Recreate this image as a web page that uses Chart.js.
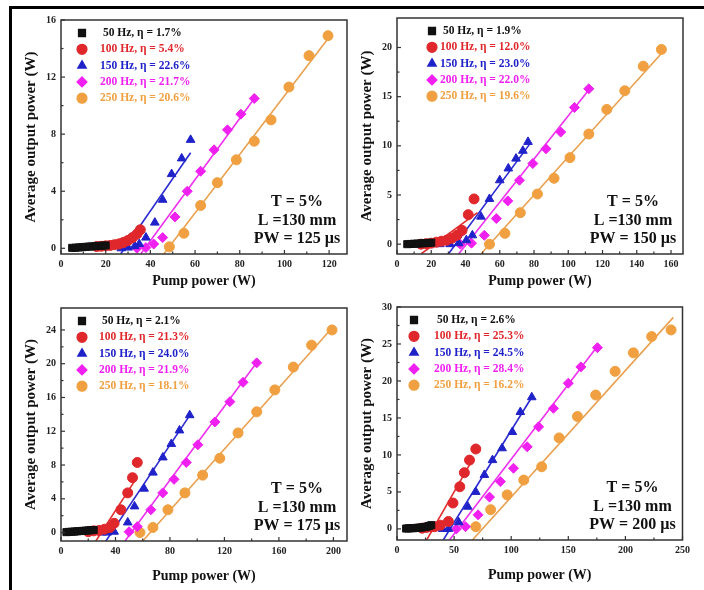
<!DOCTYPE html>
<html>
<head>
<meta charset="utf-8">
<script src="https://cdn.jsdelivr.net/npm/chart.js@4.4.1/dist/chart.umd.min.js"></script>
<style>
  html, body { margin: 0; padding: 0; background: #fff; }
  #fig { position: relative; width: 704px; height: 590px; overflow: hidden; }
  #frame { position: absolute; left: 9px; top: 6px; width: 700px; height: 600px;
           border-left: 3px solid #000; border-top: 3px solid #000; }
  canvas { position: absolute; }
</style>
</head>
<body>
<div id="fig">
  <div id="frame"></div>
  <canvas id="p1"></canvas>
  <canvas id="p2"></canvas>
  <canvas id="p3"></canvas>
  <canvas id="p4"></canvas>
</div>
<script>
// series names and pulse widths
const freqs = [50, 100, 150, 200, 250];
const pulseWidths = [125, 150, 175, 200];

// efficiencies (%) per panel
const eta1 = [1.7, 5.4, 22.6, 21.7, 20.6];
const eta2 = [1.9, 12.0, 23.0, 22.0, 19.6];
const eta3 = [2.1, 21.3, 24.0, 21.9, 18.1];
const eta4 = [2.6, 25.3, 24.5, 28.4, 16.2];

// axis ranges and ticks
const x1Range = [0, 128], y1Range = [-0.4, 16];
const x1Ticks = [0, 20, 40, 60, 80, 100, 120], y1Ticks = [0, 4, 8, 12, 16];
const x2Range = [0, 167], y2Range = [-1, 23];
const x2Ticks = [0, 20, 40, 60, 80, 100, 120, 140, 160], y2Ticks = [0, 5, 10, 15, 20];
const x3Range = [0, 210], y3Range = [-1, 26.6];
const x3Ticks = [0, 40, 80, 120, 160, 200], y3Ticks = [0, 4, 8, 12, 16, 20, 24];
const x4Range = [0, 250], y4Range = [-1.5, 30];
const x4Ticks = [0, 50, 100, 150, 200, 250], y4Ticks = [0, 5, 10, 15, 20, 25, 30];

// PW = 125 us
const black1X = [5, 6.5, 8, 9.5, 11, 12.5, 14, 15.5, 17, 18.5, 20];
const black1Y = [0.03, 0.04, 0.06, 0.08, 0.1, 0.12, 0.13, 0.15, 0.17, 0.18, 0.2];
const red1X = [16, 18, 20, 22, 24, 26, 28, 30, 32, 34, 35.5];
const red1Y = [0.12, 0.14, 0.17, 0.2, 0.25, 0.3, 0.4, 0.55, 0.75, 1.0, 1.3];
const blue1X = [27, 30, 33, 35, 38, 42, 45.5, 49.5, 54, 58];
const blue1Y = [0, 0.05, 0.15, 0.3, 0.75, 1.8, 3.4, 5.2, 6.3, 7.6];
const mag1X = [34, 38, 41.5, 45.5, 51, 56.5, 62.5, 68.5, 74.5, 80.5, 86.5];
const mag1Y = [0, 0.05, 0.3, 0.75, 2.2, 4.0, 5.4, 6.9, 8.3, 9.4, 10.5];
const org1X = [48.5, 55, 62.5, 70, 78.5, 86.5, 94, 102, 111, 119.5];
const org1Y = [0.1, 1.05, 3.0, 4.6, 6.2, 7.5, 9.0, 11.3, 13.5, 14.9];
// fit lines [x1, y1, x2, y2]
const fit1 = [[5, 0, 30, 0.4], [15, 0, 36, 1.2], [26.7, -0.4, 58, 6.7], [35.7, -0.4, 87, 10.6], [46, -0.4, 121, 15]];

// PW = 150 us
const black2X = [6, 8, 10, 12, 14, 16, 18, 20];
const black2Y = [0, 0.02, 0.04, 0.06, 0.08, 0.1, 0.12, 0.15];
const red2X = [14, 17, 20, 23, 26, 29, 32, 35, 38, 41.6, 45];
const red2Y = [0, 0.05, 0.1, 0.2, 0.3, 0.4, 0.6, 0.9, 1.4, 3.0, 4.6];
const blue2X = [25, 31, 36, 40.5, 44, 49, 54, 60, 65, 69.5, 73.5, 76.5];
const blue2Y = [0, 0, 0.1, 0.4, 0.9, 2.8, 4.6, 6.5, 7.7, 8.7, 9.5, 10.4];
const mag2X = [37, 43.5, 51, 58, 64.7, 71.5, 79.3, 87, 95.6, 103.6, 112];
const mag2Y = [0, 0.1, 0.9, 2.6, 4.4, 6.5, 8.2, 9.7, 11.4, 13.9, 15.8];
const org2X = [54, 63, 72, 82, 91.7, 101, 112, 122.5, 133, 143.8, 154.4];
const org2Y = [0, 1.1, 3.2, 5.1, 6.7, 8.8, 11.2, 13.7, 15.6, 18.1, 19.8];
const fit2 = [[6, 0, 22, 0.3], [14, -1, 47, 3.2], [30, -1, 78, 10.3], [36, -1, 113, 15.9], [49, -1, 157, 19.9]];

// PW = 175 us
const black3X = [4, 6, 8, 10, 12, 14, 16, 18, 20, 22, 24];
const black3Y = [0.05, 0.08, 0.1, 0.12, 0.15, 0.18, 0.2, 0.22, 0.25, 0.28, 0.3];
const red3X = [20, 24, 28, 32, 36, 39, 44, 49, 52.5, 56];
const red3Y = [0.1, 0.2, 0.25, 0.4, 0.6, 1.1, 2.7, 4.7, 6.5, 8.3];
const blue3X = [30, 34, 39, 49, 54, 61, 67.5, 74.8, 81, 87, 94.5];
const blue3Y = [0, 0, 0.1, 1.2, 3.1, 5.2, 7.1, 8.9, 10.5, 12.1, 13.9];
const mag3X = [50, 56, 66, 74.7, 83, 92, 100.5, 113, 124, 133.7, 143.7];
const mag3Y = [0.1, 0.7, 2.7, 4.7, 6.3, 8.3, 10.4, 13.1, 15.5, 17.8, 20.1];
const org3X = [58, 67.5, 78.5, 91, 104, 116.6, 130, 143.7, 157, 170.6, 184, 199];
const org3Y = [0, 0.6, 2.7, 4.7, 6.8, 8.8, 11.8, 14.3, 16.9, 19.6, 22.2, 24.0];
const fit3 = [[5, 0, 28, 0.5], [25.6, -1, 56, 6.6], [33, -1, 95, 14], [47, -1, 144, 20.2], [60, -1, 200, 24.4]];

// PW = 200 us
const black4X = [8, 10, 12, 14, 16, 18, 20, 22, 24, 26, 28, 30];
const black4Y = [0.05, 0.07, 0.09, 0.1, 0.12, 0.15, 0.18, 0.2, 0.25, 0.3, 0.4, 0.5];
const red4X = [22, 26, 30, 33, 38, 45, 49, 55, 59, 63.5, 69];
const red4Y = [0.1, 0.2, 0.3, 0.3, 0.5, 1.0, 3.5, 5.7, 7.6, 9.3, 10.8];
const blue4X = [40, 45, 54, 62, 69, 76.5, 83.6, 92, 101, 108, 118];
const blue4Y = [0, 0, 0.9, 3.0, 5.0, 7.3, 9.3, 10.9, 13.1, 15.8, 17.8];
const mag4X = [52, 60, 71, 81, 90.5, 102, 114, 124, 137, 150, 161, 175.5];
const mag4Y = [0, 0.3, 1.9, 4.3, 6.4, 8.2, 11.1, 13.8, 16.3, 19.7, 21.9, 24.5];
const org4X = [69, 82, 96.5, 111, 126.7, 142, 158, 174, 191, 207, 223, 240];
const org4Y = [0.3, 2.6, 4.6, 6.6, 8.4, 12.3, 15.2, 18.1, 21.3, 23.8, 26.0, 26.9];
const fit4 = [[8, 0, 32, 0.6], [26, -1.5, 64, 8.8], [40.5, -1.5, 118, 17.8], [46, -1.5, 177, 25], [66, -1.5, 242, 28.6]];

const colors = ["#111111", "#e0282c", "#1f22c8", "#f020f0", "#f0a040"];
const lineColors = ["#222222", "#e03030", "#2a2ad0", "#ee30ee", "#e9a050"];
const styles = ["rect", "circle", "triangle", "rectRot", "circle"];
const serif = "'Liberation Serif', 'Times New Roman', serif";

const panels = [
  { id: "p1", area: [61, 20, 347, 254], gap: 27, leg: [21, 39], pw: pulseWidths[0], eta: eta1,
    xs: [black1X, red1X, blue1X, mag1X, org1X], ys: [black1Y, red1Y, blue1Y, mag1Y, org1Y], fits: fit1,
    xr: x1Range, yr: y1Range, xt: x1Ticks, yt: y1Ticks },
  { id: "p2", area: [397, 18, 683, 254], gap: 27, leg: [35, 43], pw: pulseWidths[1], eta: eta2,
    xs: [black2X, red2X, blue2X, mag2X, org2X], ys: [black2Y, red2Y, blue2Y, mag2Y, org2Y], fits: fit2,
    xr: x2Range, yr: y2Range, xt: x2Ticks, yt: y2Ticks },
  { id: "p3", area: [61, 308, 347, 541], gap: 35, leg: [21, 38], pw: pulseWidths[2], eta: eta3,
    xs: [black3X, red3X, blue3X, mag3X, org3X], ys: [black3Y, red3Y, blue3Y, mag3Y, org3Y], fits: fit3,
    xr: x3Range, yr: y3Range, xt: x3Ticks, yt: y3Ticks },
  { id: "p4", area: [397, 307, 684, 540], gap: 35, leg: [17, 37], pw: pulseWidths[3], eta: eta4,
    xs: [black4X, red4X, blue4X, mag4X, org4X], ys: [black4Y, red4Y, blue4Y, mag4Y, org4Y], fits: fit4,
    xr: x4Range, yr: y4Range, xt: x4Ticks, yt: y4Ticks }
];

// box, inward ticks, legend and the T/L/PW note
const decor = {
  id: "decor",
  afterDatasetsDraw(chart, args, opts) {
    const p = opts.panel;
    const { ctx, chartArea: a } = chart;
    const sx = chart.scales.x, sy = chart.scales.y;
    ctx.save();
    ctx.strokeStyle = "#333";
    ctx.lineWidth = 1.5;
    ctx.strokeRect(a.left, a.top, a.right - a.left, a.bottom - a.top);

    ctx.lineWidth = 1.2;
    const mid = t => t.slice(1).map((v, i) => (v + t[i]) / 2);
    const tickX = (vals, len) => vals.forEach(v => {
      const px = sx.getPixelForValue(v);
      if (px < a.left || px > a.right) return;
      ctx.beginPath(); ctx.moveTo(px, a.bottom); ctx.lineTo(px, a.bottom - len); ctx.stroke();
    });
    const tickY = (vals, len) => vals.forEach(v => {
      const py = sy.getPixelForValue(v);
      if (py < a.top || py > a.bottom) return;
      ctx.beginPath(); ctx.moveTo(a.left, py); ctx.lineTo(a.left + len, py); ctx.stroke();
    });
    tickX(p.xt, 4); tickX(mid(p.xt), 2.5);
    tickY(p.yt, 4); tickY(mid(p.yt), 2.5);

    ctx.font = "bold 11.5px " + serif;
    ctx.textBaseline = "middle";
    ctx.textAlign = "left";
    p.eta.forEach((e, i) => {
      const yy = a.top + 13 + 16.3 * i;
      ctx.fillStyle = colors[i];
      ctx.strokeStyle = colors[i];
      Chart.helpers.drawPoint(ctx, { pointStyle: styles[i], radius: 5, rotation: 0, borderWidth: 1 },
        a.left + p.leg[0], yy);
      const f = freqs[i] < 100 ? " " + freqs[i] : "" + freqs[i];
      ctx.fillText(f + " Hz, η = " + e.toFixed(1) + "%", a.left + p.leg[1], yy);
    });

    ctx.fillStyle = "#111";
    ctx.font = "bold 16px " + serif;
    ctx.textAlign = "center";
    const cx = a.right - 50;
    ctx.fillText("T = 5%", cx, a.bottom - 52);
    ctx.fillText("L =130 mm", cx, a.bottom - 33.5);
    ctx.fillText("PW = " + p.pw + " µs", cx, a.bottom - 15);
    ctx.restore();
  }
};

panels.forEach(p => {
  const [l, t, r, b] = p.area;
  const cv = document.getElementById(p.id);
  cv.width = r - l + 60;
  cv.height = b - t + 63;
  cv.style.left = (l - 50) + "px";
  cv.style.top = (t - 15) + "px";

  const datasets = [];
  p.xs.forEach((xs, i) => {
    datasets.push({
      data: xs.map((x, k) => ({ x: x, y: p.ys[i][k] })),
      pointStyle: styles[i],
      pointRadius: 5,
      backgroundColor: colors[i],
      borderColor: colors[i],
      borderWidth: 1,
      showLine: false
    });
  });
  p.fits.forEach((f, i) => {
    datasets.push({
      data: [{ x: f[0], y: f[1] }, { x: f[2], y: f[3] }],
      showLine: true,
      pointRadius: 0,
      borderColor: lineColors[i],
      borderWidth: 1.6
    });
  });

  const tickFont = { family: serif, size: 10, weight: "bold" };

  new Chart(cv, {
    type: "scatter",
    data: { datasets },
    options: {
      responsive: false,
      animation: false,
      events: [],
      layout: { padding: { left: 0, top: 15, right: 10, bottom: 0 } },
      plugins: { legend: { display: false }, tooltip: { enabled: false }, decor: { panel: p } },
      scales: {
        x: {
          type: "linear",
          min: p.xr[0], max: p.xr[1],
          afterBuildTicks: s => { s.ticks = p.xt.map(v => ({ value: v })); },
          afterFit: s => { s.height = 48; },
          grid: { display: false, drawTicks: false, tickLength: 0 },
          border: { display: false },
          ticks: { font: tickFont, color: "#222", padding: 4, autoSkip: false, maxRotation: 0 },
          title: { display: true, text: "Pump power (W)", color: "#111",
                   font: { family: serif, size: 14, weight: "bold" },
                   padding: { top: 0, bottom: 39.6 - p.gap } }
        },
        y: {
          type: "linear",
          min: p.yr[0], max: p.yr[1],
          afterBuildTicks: s => { s.ticks = p.yt.map(v => ({ value: v })); },
          afterFit: s => { s.width = 50; },
          grid: { display: false, drawTicks: false, tickLength: 0 },
          border: { display: false },
          ticks: { font: tickFont, color: "#222", padding: 5 },
          title: { display: true, text: "Average output power (W)", color: "#111",
                   font: { family: serif, size: 15, weight: "bold" },
                   padding: { top: 11, bottom: 0 } }
        }
      }
    },
    plugins: [decor]
  });
});
</script>
</body>
</html>
